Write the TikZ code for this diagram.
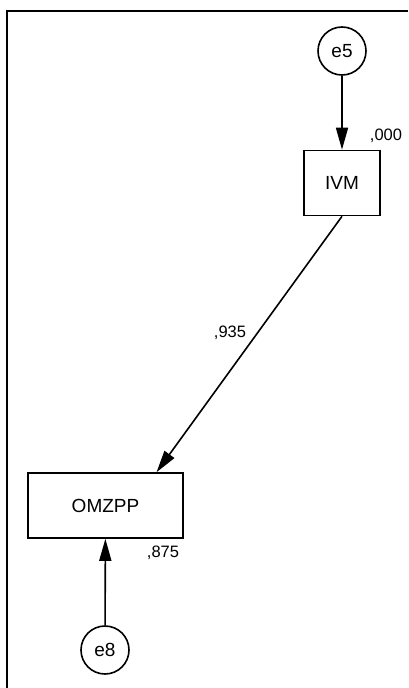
\documentclass[tikz,border=0pt]{standalone}
\usepackage{fontspec}
\setmainfont{Liberation Sans}
\usetikzlibrary{arrows.meta,calc}
\begin{document}
\begin{tikzpicture}[x=1pt,y=-1pt,
  box/.style={draw,line width=1.6pt,minimum width=76pt,minimum height=65pt,inner sep=0pt,font=\fontsize{19}{22}\selectfont},
  err/.style={draw,circle,line width=1.6pt,minimum size=48pt,inner sep=0pt,font=\fontsize{19}{22}\selectfont},
  lbl/.style={font=\fontsize{16.5}{19}\selectfont,inner sep=0pt},
  regpath/.style={line width=1.6pt,-{Triangle[length=22pt,width=12pt]}}]
\useasboundingbox (0,0) rectangle (408,688);
\draw[line width=2pt] (7,688) -- (7,11) -- (408,11);
\node[err] (e5) at (342,51) {e5};
\node[box] (ivm) at (342,183) {IVM};
\node[box,minimum width=155pt] (omz) at (105.5,505.5) {OMZPP};
\node[err] (e8) at (105,650) {e8};
\coordinate (tip) at ($(omz.north west)!0.826!(omz.north east)$);
\draw[regpath] (e5) -- (ivm);
\draw[regpath] (ivm.south) -- (tip);
\draw[regpath] (e8) -- (omz);
\node[lbl] (l1) at (386,136) {,000};
\node[lbl] (l2) at (230,333) {,935};
\node[lbl] (l3) at (163,553) {,875};
\end{tikzpicture}
\end{document}
